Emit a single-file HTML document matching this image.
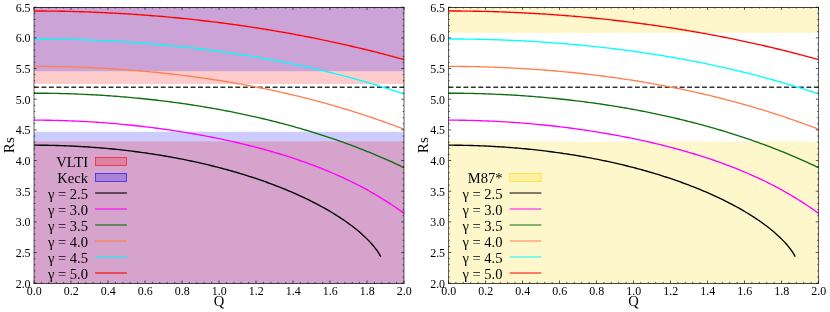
<!DOCTYPE html>
<html><head><meta charset="utf-8"><title>Rs vs Q</title>
<style>
html,body{margin:0;padding:0;background:#fff;}
svg{display:block;will-change:transform;font-family:"Liberation Serif",serif;}
</style></head>
<body>
<svg width="830" height="312" viewBox="0 0 830 312">
<rect width="830" height="312" fill="#fff"/>
<!-- left panel: Sgr A* (VLTI / Keck) -->
<rect x="34.00" y="7.20" width="370.00" height="76.79" fill="#ff0000" fill-opacity="0.2"/>
<rect x="34.00" y="7.20" width="370.00" height="64.03" fill="#0000ff" fill-opacity="0.2"/>
<rect x="34.00" y="131.77" width="370.00" height="151.43" fill="#0000ff" fill-opacity="0.2"/>
<rect x="34.00" y="141.34" width="370.00" height="141.86" fill="#ff0000" fill-opacity="0.2"/>
<path d="M34.00,87.18 H404.00" stroke="#000" stroke-opacity="0.8" stroke-width="1.4" stroke-dasharray="4.9 2.557" fill="none"/>
<g fill="none" stroke-width="1.35" stroke-linejoin="round">
<path d="M34.00,145.19 L36.18,145.19 L38.36,145.20 L40.54,145.21 L42.72,145.23 L44.90,145.26 L47.08,145.29 L49.27,145.33 L51.45,145.37 L53.63,145.42 L55.81,145.48 L57.99,145.54 L60.17,145.61 L62.35,145.68 L64.53,145.76 L66.71,145.84 L68.89,145.93 L71.07,146.03 L73.25,146.13 L75.44,146.24 L77.62,146.35 L79.80,146.47 L81.98,146.60 L84.16,146.73 L86.34,146.87 L88.52,147.01 L90.70,147.16 L92.88,147.32 L95.06,147.48 L97.24,147.65 L99.42,147.83 L101.61,148.01 L103.79,148.19 L105.97,148.38 L108.15,148.58 L110.33,148.79 L112.51,149.00 L114.69,149.22 L116.87,149.44 L119.05,149.67 L121.23,149.91 L123.41,150.15 L125.59,150.40 L127.78,150.65 L129.96,150.92 L132.14,151.18 L134.32,151.46 L136.50,151.74 L138.68,152.03 L140.86,152.32 L143.04,152.62 L145.22,152.93 L147.40,153.24 L149.58,153.57 L151.76,153.89 L153.94,154.23 L156.13,154.57 L158.31,154.92 L160.49,155.27 L162.67,155.63 L164.85,156.00 L167.03,156.38 L169.21,156.76 L171.39,157.15 L173.57,157.55 L175.75,157.96 L177.93,158.37 L180.11,158.79 L182.30,159.21 L184.48,159.65 L186.66,160.09 L188.84,160.54 L191.02,161.00 L193.20,161.46 L195.38,161.94 L197.56,162.42 L199.74,162.90 L201.92,163.40 L204.10,163.91 L206.28,164.42 L208.47,164.94 L210.65,165.47 L212.83,166.01 L215.01,166.55 L217.19,167.11 L219.37,167.67 L221.55,168.24 L223.73,168.83 L225.91,169.42 L228.09,170.02 L230.27,170.62 L232.45,171.24 L234.64,171.87 L236.82,172.51 L239.00,173.15 L241.18,173.81 L243.36,174.47 L245.54,175.15 L247.72,175.84 L249.90,176.53 L252.08,177.24 L254.26,177.96 L256.44,178.69 L258.62,179.42 L260.81,180.18 L262.99,180.94 L265.17,181.71 L267.35,182.50 L269.53,183.29 L271.71,184.10 L273.89,184.92 L276.07,185.76 L278.25,186.60 L280.43,187.46 L282.61,188.34 L284.79,189.22 L286.97,190.12 L289.16,191.04 L291.34,191.97 L293.52,192.91 L295.70,193.87 L297.88,194.85 L300.06,195.84 L302.24,196.85 L304.42,197.88 L306.60,198.92 L308.78,199.98 L310.96,201.06 L313.14,202.16 L315.33,203.28 L317.51,204.42 L319.69,205.58 L321.87,206.76 L324.05,207.96 L326.23,209.19 L328.41,210.45 L330.59,211.73 L332.77,213.04 L334.95,214.37 L337.13,215.74 L339.31,217.14 L341.50,218.57 L343.68,220.04 L345.86,221.55 L348.04,223.09 L350.22,224.68 L352.40,226.32 L354.58,228.02 L356.76,229.76 L358.94,231.57 L361.12,233.45 L363.30,235.41 L365.48,237.46 L367.67,239.61 L369.85,241.88 L372.03,244.30 L374.21,246.90 L376.39,249.74 L378.57,252.90 L380.75,256.54" stroke="#000000"/>
<path d="M34.00,120.14 L36.33,120.15 L38.65,120.16 L40.98,120.17 L43.31,120.19 L45.64,120.22 L47.96,120.25 L50.29,120.29 L52.62,120.33 L54.94,120.38 L57.27,120.43 L59.60,120.49 L61.92,120.56 L64.25,120.63 L66.58,120.71 L68.91,120.80 L71.23,120.89 L73.56,120.98 L75.89,121.08 L78.21,121.19 L80.54,121.30 L82.87,121.42 L85.19,121.55 L87.52,121.68 L89.85,121.81 L92.18,121.95 L94.50,122.10 L96.83,122.25 L99.16,122.41 L101.48,122.58 L103.81,122.75 L106.14,122.93 L108.47,123.11 L110.79,123.30 L113.12,123.49 L115.45,123.69 L117.77,123.90 L120.10,124.11 L122.43,124.32 L124.75,124.55 L127.08,124.78 L129.41,125.01 L131.74,125.25 L134.06,125.50 L136.39,125.75 L138.72,126.01 L141.04,126.27 L143.37,126.54 L145.70,126.82 L148.03,127.10 L150.35,127.39 L152.68,127.68 L155.01,127.98 L157.33,128.29 L159.66,128.60 L161.99,128.92 L164.31,129.24 L166.64,129.57 L168.97,129.91 L171.30,130.25 L173.62,130.60 L175.95,130.95 L178.28,131.31 L180.60,131.68 L182.93,132.05 L185.26,132.43 L187.58,132.82 L189.91,133.21 L192.24,133.61 L194.57,134.01 L196.89,134.42 L199.22,134.84 L201.55,135.27 L203.87,135.70 L206.20,136.14 L208.53,136.58 L210.86,137.03 L213.18,137.49 L215.51,137.96 L217.84,138.43 L220.16,138.91 L222.49,139.40 L224.82,139.89 L227.14,140.40 L229.47,140.91 L231.80,141.42 L234.13,141.95 L236.45,142.48 L238.78,143.02 L241.11,143.57 L243.43,144.13 L245.76,144.69 L248.09,145.26 L250.42,145.84 L252.74,146.43 L255.07,147.03 L257.40,147.64 L259.72,148.26 L262.05,148.88 L264.38,149.52 L266.70,150.16 L269.03,150.81 L271.36,151.48 L273.69,152.15 L276.01,152.83 L278.34,153.52 L280.67,154.23 L282.99,154.94 L285.32,155.66 L287.65,156.40 L289.97,157.15 L292.30,157.90 L294.63,158.67 L296.96,159.45 L299.28,160.25 L301.61,161.05 L303.94,161.87 L306.26,162.70 L308.59,163.54 L310.92,164.40 L313.25,165.27 L315.57,166.15 L317.90,167.05 L320.23,167.96 L322.55,168.89 L324.88,169.83 L327.21,170.79 L329.53,171.76 L331.86,172.75 L334.19,173.75 L336.52,174.77 L338.84,175.81 L341.17,176.86 L343.50,177.93 L345.82,179.02 L348.15,180.13 L350.48,181.26 L352.81,182.41 L355.13,183.57 L357.46,184.76 L359.79,185.96 L362.11,187.19 L364.44,188.43 L366.77,189.70 L369.09,190.99 L371.42,192.31 L373.75,193.64 L376.08,195.00 L378.40,196.39 L380.73,197.80 L383.06,199.23 L385.38,200.69 L387.71,202.18 L390.04,203.69 L392.36,205.23 L394.69,206.79 L397.02,208.39 L399.35,210.02 L401.67,211.67 L404.00,213.35" stroke="#ff00ff"/>
<path d="M34.00,93.20 L36.33,93.20 L38.65,93.21 L40.98,93.22 L43.31,93.24 L45.64,93.26 L47.96,93.29 L50.29,93.32 L52.62,93.36 L54.94,93.40 L57.27,93.45 L59.60,93.50 L61.92,93.56 L64.25,93.62 L66.58,93.69 L68.91,93.76 L71.23,93.84 L73.56,93.92 L75.89,94.01 L78.21,94.10 L80.54,94.19 L82.87,94.30 L85.19,94.40 L87.52,94.52 L89.85,94.63 L92.18,94.75 L94.50,94.88 L96.83,95.01 L99.16,95.15 L101.48,95.29 L103.81,95.44 L106.14,95.59 L108.47,95.75 L110.79,95.91 L113.12,96.08 L115.45,96.26 L117.77,96.43 L120.10,96.62 L122.43,96.81 L124.75,97.00 L127.08,97.20 L129.41,97.40 L131.74,97.61 L134.06,97.83 L136.39,98.05 L138.72,98.28 L141.04,98.51 L143.37,98.74 L145.70,98.98 L148.03,99.23 L150.35,99.48 L152.68,99.74 L155.01,100.01 L157.33,100.27 L159.66,100.55 L161.99,100.83 L164.31,101.11 L166.64,101.40 L168.97,101.70 L171.30,102.00 L173.62,102.31 L175.95,102.62 L178.28,102.94 L180.60,103.27 L182.93,103.60 L185.26,103.93 L187.58,104.28 L189.91,104.62 L192.24,104.98 L194.57,105.34 L196.89,105.70 L199.22,106.07 L201.55,106.45 L203.87,106.83 L206.20,107.22 L208.53,107.62 L210.86,108.02 L213.18,108.43 L215.51,108.84 L217.84,109.26 L220.16,109.69 L222.49,110.12 L224.82,110.56 L227.14,111.00 L229.47,111.45 L231.80,111.91 L234.13,112.38 L236.45,112.85 L238.78,113.33 L241.11,113.81 L243.43,114.30 L245.76,114.80 L248.09,115.30 L250.42,115.81 L252.74,116.33 L255.07,116.85 L257.40,117.39 L259.72,117.92 L262.05,118.47 L264.38,119.02 L266.70,119.58 L269.03,120.15 L271.36,120.72 L273.69,121.30 L276.01,121.89 L278.34,122.49 L280.67,123.09 L282.99,123.70 L285.32,124.32 L287.65,124.95 L289.97,125.58 L292.30,126.22 L294.63,126.87 L296.96,127.53 L299.28,128.19 L301.61,128.87 L303.94,129.55 L306.26,130.24 L308.59,130.94 L310.92,131.64 L313.25,132.36 L315.57,133.08 L317.90,133.81 L320.23,134.55 L322.55,135.30 L324.88,136.06 L327.21,136.82 L329.53,137.60 L331.86,138.38 L334.19,139.17 L336.52,139.98 L338.84,140.79 L341.17,141.61 L343.50,142.44 L345.82,143.28 L348.15,144.13 L350.48,144.99 L352.81,145.86 L355.13,146.73 L357.46,147.62 L359.79,148.52 L362.11,149.43 L364.44,150.35 L366.77,151.28 L369.09,152.22 L371.42,153.17 L373.75,154.13 L376.08,155.10 L378.40,156.08 L380.73,157.07 L383.06,158.08 L385.38,159.09 L387.71,160.12 L390.04,161.16 L392.36,162.21 L394.69,163.27 L397.02,164.34 L399.35,165.43 L401.67,166.53 L404.00,167.64" stroke="#0c6e0c"/>
<path d="M34.00,66.39 L36.33,66.39 L38.65,66.40 L40.98,66.41 L43.31,66.42 L45.64,66.44 L47.96,66.47 L50.29,66.49 L52.62,66.53 L54.94,66.56 L57.27,66.60 L59.60,66.65 L61.92,66.70 L64.25,66.75 L66.58,66.81 L68.91,66.87 L71.23,66.94 L73.56,67.01 L75.89,67.09 L78.21,67.16 L80.54,67.25 L82.87,67.34 L85.19,67.43 L87.52,67.53 L89.85,67.63 L92.18,67.73 L94.50,67.84 L96.83,67.96 L99.16,68.08 L101.48,68.20 L103.81,68.33 L106.14,68.46 L108.47,68.60 L110.79,68.74 L113.12,68.88 L115.45,69.03 L117.77,69.19 L120.10,69.35 L122.43,69.51 L124.75,69.68 L127.08,69.85 L129.41,70.03 L131.74,70.21 L134.06,70.40 L136.39,70.59 L138.72,70.78 L141.04,70.98 L143.37,71.19 L145.70,71.40 L148.03,71.61 L150.35,71.83 L152.68,72.05 L155.01,72.28 L157.33,72.51 L159.66,72.75 L161.99,72.99 L164.31,73.24 L166.64,73.49 L168.97,73.75 L171.30,74.01 L173.62,74.28 L175.95,74.55 L178.28,74.82 L180.60,75.11 L182.93,75.39 L185.26,75.68 L187.58,75.98 L189.91,76.28 L192.24,76.58 L194.57,76.90 L196.89,77.21 L199.22,77.53 L201.55,77.86 L203.87,78.19 L206.20,78.53 L208.53,78.87 L210.86,79.22 L213.18,79.57 L215.51,79.93 L217.84,80.29 L220.16,80.66 L222.49,81.03 L224.82,81.41 L227.14,81.79 L229.47,82.18 L231.80,82.58 L234.13,82.98 L236.45,83.38 L238.78,83.79 L241.11,84.21 L243.43,84.63 L245.76,85.06 L248.09,85.50 L250.42,85.93 L252.74,86.38 L255.07,86.83 L257.40,87.29 L259.72,87.75 L262.05,88.22 L264.38,88.69 L266.70,89.17 L269.03,89.66 L271.36,90.15 L273.69,90.65 L276.01,91.15 L278.34,91.66 L280.67,92.18 L282.99,92.70 L285.32,93.23 L287.65,93.76 L289.97,94.30 L292.30,94.85 L294.63,95.40 L296.96,95.96 L299.28,96.53 L301.61,97.10 L303.94,97.68 L306.26,98.27 L308.59,98.86 L310.92,99.46 L313.25,100.06 L315.57,100.67 L317.90,101.29 L320.23,101.92 L322.55,102.55 L324.88,103.19 L327.21,103.83 L329.53,104.49 L331.86,105.15 L334.19,105.81 L336.52,106.49 L338.84,107.17 L341.17,107.85 L343.50,108.55 L345.82,109.25 L348.15,109.96 L350.48,110.67 L352.81,111.40 L355.13,112.13 L357.46,112.87 L359.79,113.61 L362.11,114.37 L364.44,115.13 L366.77,115.90 L369.09,116.67 L371.42,117.46 L373.75,118.25 L376.08,119.05 L378.40,119.85 L380.73,120.67 L383.06,121.49 L385.38,122.32 L387.71,123.16 L390.04,124.01 L392.36,124.86 L394.69,125.73 L397.02,126.60 L399.35,127.48 L401.67,128.37 L404.00,129.26" stroke="#ff7f50"/>
<path d="M34.00,38.96 L36.33,38.96 L38.65,38.97 L40.98,38.98 L43.31,38.99 L45.64,39.01 L47.96,39.03 L50.29,39.05 L52.62,39.08 L54.94,39.11 L57.27,39.15 L59.60,39.19 L61.92,39.23 L64.25,39.28 L66.58,39.33 L68.91,39.39 L71.23,39.44 L73.56,39.51 L75.89,39.57 L78.21,39.64 L80.54,39.72 L82.87,39.79 L85.19,39.87 L87.52,39.96 L89.85,40.05 L92.18,40.14 L94.50,40.24 L96.83,40.34 L99.16,40.44 L101.48,40.55 L103.81,40.66 L106.14,40.78 L108.47,40.90 L110.79,41.02 L113.12,41.15 L115.45,41.28 L117.77,41.42 L120.10,41.56 L122.43,41.70 L124.75,41.85 L127.08,42.00 L129.41,42.16 L131.74,42.31 L134.06,42.48 L136.39,42.65 L138.72,42.82 L141.04,42.99 L143.37,43.17 L145.70,43.36 L148.03,43.54 L150.35,43.73 L152.68,43.93 L155.01,44.13 L157.33,44.33 L159.66,44.54 L161.99,44.76 L164.31,44.97 L166.64,45.19 L168.97,45.42 L171.30,45.65 L173.62,45.88 L175.95,46.12 L178.28,46.36 L180.60,46.61 L182.93,46.86 L185.26,47.11 L187.58,47.37 L189.91,47.64 L192.24,47.90 L194.57,48.18 L196.89,48.45 L199.22,48.73 L201.55,49.02 L203.87,49.31 L206.20,49.60 L208.53,49.90 L210.86,50.21 L213.18,50.52 L215.51,50.83 L217.84,51.15 L220.16,51.47 L222.49,51.79 L224.82,52.13 L227.14,52.46 L229.47,52.80 L231.80,53.15 L234.13,53.50 L236.45,53.85 L238.78,54.21 L241.11,54.58 L243.43,54.95 L245.76,55.32 L248.09,55.70 L250.42,56.09 L252.74,56.48 L255.07,56.87 L257.40,57.27 L259.72,57.67 L262.05,58.08 L264.38,58.50 L266.70,58.92 L269.03,59.34 L271.36,59.77 L273.69,60.21 L276.01,60.65 L278.34,61.09 L280.67,61.54 L282.99,62.00 L285.32,62.46 L287.65,62.93 L289.97,63.40 L292.30,63.88 L294.63,64.36 L296.96,64.85 L299.28,65.35 L301.61,65.84 L303.94,66.35 L306.26,66.86 L308.59,67.38 L310.92,67.90 L313.25,68.43 L315.57,68.96 L317.90,69.50 L320.23,70.05 L322.55,70.60 L324.88,71.16 L327.21,71.72 L329.53,72.29 L331.86,72.86 L334.19,73.44 L336.52,74.03 L338.84,74.62 L341.17,75.22 L343.50,75.83 L345.82,76.44 L348.15,77.06 L350.48,77.68 L352.81,78.31 L355.13,78.95 L357.46,79.59 L359.79,80.24 L362.11,80.90 L364.44,81.56 L366.77,82.23 L369.09,82.91 L371.42,83.59 L373.75,84.28 L376.08,84.98 L378.40,85.68 L380.73,86.39 L383.06,87.10 L385.38,87.83 L387.71,88.56 L390.04,89.29 L392.36,90.04 L394.69,90.79 L397.02,91.55 L399.35,92.31 L401.67,93.08 L404.00,93.86" stroke="#00ffff"/>
<path d="M34.00,10.99 L36.33,10.99 L38.65,10.99 L40.98,11.00 L43.31,11.02 L45.64,11.03 L47.96,11.05 L50.29,11.08 L52.62,11.10 L54.94,11.13 L57.27,11.17 L59.60,11.21 L61.92,11.25 L64.25,11.29 L66.58,11.34 L68.91,11.39 L71.23,11.45 L73.56,11.51 L75.89,11.57 L78.21,11.64 L80.54,11.71 L82.87,11.78 L85.19,11.86 L87.52,11.94 L89.85,12.03 L92.18,12.12 L94.50,12.21 L96.83,12.31 L99.16,12.41 L101.48,12.51 L103.81,12.62 L106.14,12.73 L108.47,12.84 L110.79,12.96 L113.12,13.08 L115.45,13.21 L117.77,13.34 L120.10,13.47 L122.43,13.60 L124.75,13.75 L127.08,13.89 L129.41,14.04 L131.74,14.19 L134.06,14.34 L136.39,14.50 L138.72,14.66 L141.04,14.83 L143.37,15.00 L145.70,15.17 L148.03,15.35 L150.35,15.53 L152.68,15.72 L155.01,15.91 L157.33,16.10 L159.66,16.29 L161.99,16.49 L164.31,16.70 L166.64,16.90 L168.97,17.12 L171.30,17.33 L173.62,17.55 L175.95,17.77 L178.28,18.00 L180.60,18.23 L182.93,18.46 L185.26,18.70 L187.58,18.94 L189.91,19.19 L192.24,19.44 L194.57,19.69 L196.89,19.95 L199.22,20.21 L201.55,20.47 L203.87,20.74 L206.20,21.02 L208.53,21.29 L210.86,21.57 L213.18,21.86 L215.51,22.15 L217.84,22.44 L220.16,22.74 L222.49,23.04 L224.82,23.34 L227.14,23.65 L229.47,23.96 L231.80,24.28 L234.13,24.60 L236.45,24.92 L238.78,25.25 L241.11,25.58 L243.43,25.92 L245.76,26.26 L248.09,26.61 L250.42,26.95 L252.74,27.31 L255.07,27.66 L257.40,28.03 L259.72,28.39 L262.05,28.76 L264.38,29.13 L266.70,29.51 L269.03,29.89 L271.36,30.28 L273.69,30.67 L276.01,31.06 L278.34,31.46 L280.67,31.86 L282.99,32.27 L285.32,32.68 L287.65,33.10 L289.97,33.52 L292.30,33.94 L294.63,34.37 L296.96,34.80 L299.28,35.24 L301.61,35.68 L303.94,36.13 L306.26,36.58 L308.59,37.03 L310.92,37.49 L313.25,37.95 L315.57,38.42 L317.90,38.89 L320.23,39.37 L322.55,39.85 L324.88,40.33 L327.21,40.82 L329.53,41.32 L331.86,41.82 L334.19,42.32 L336.52,42.83 L338.84,43.34 L341.17,43.86 L343.50,44.38 L345.82,44.90 L348.15,45.43 L350.48,45.97 L352.81,46.51 L355.13,47.05 L357.46,47.60 L359.79,48.16 L362.11,48.72 L364.44,49.28 L366.77,49.85 L369.09,50.42 L371.42,51.00 L373.75,51.58 L376.08,52.17 L378.40,52.76 L380.73,53.35 L383.06,53.96 L385.38,54.56 L387.71,55.17 L390.04,55.79 L392.36,56.41 L394.69,57.04 L397.02,57.67 L399.35,58.30 L401.67,58.94 L404.00,59.59" stroke="#ff0000"/>
</g>
<path d="M34.00,283.2 v-2.7 M34.00,7.2 v2.7 M41.40,283.2 v-1.3 M41.40,7.2 v1.3 M48.80,283.2 v-1.3 M48.80,7.2 v1.3 M56.20,283.2 v-1.3 M56.20,7.2 v1.3 M63.60,283.2 v-1.3 M63.60,7.2 v1.3 M71.00,283.2 v-2.7 M71.00,7.2 v2.7 M78.40,283.2 v-1.3 M78.40,7.2 v1.3 M85.80,283.2 v-1.3 M85.80,7.2 v1.3 M93.20,283.2 v-1.3 M93.20,7.2 v1.3 M100.60,283.2 v-1.3 M100.60,7.2 v1.3 M108.00,283.2 v-2.7 M108.00,7.2 v2.7 M115.40,283.2 v-1.3 M115.40,7.2 v1.3 M122.80,283.2 v-1.3 M122.80,7.2 v1.3 M130.20,283.2 v-1.3 M130.20,7.2 v1.3 M137.60,283.2 v-1.3 M137.60,7.2 v1.3 M145.00,283.2 v-2.7 M145.00,7.2 v2.7 M152.40,283.2 v-1.3 M152.40,7.2 v1.3 M159.80,283.2 v-1.3 M159.80,7.2 v1.3 M167.20,283.2 v-1.3 M167.20,7.2 v1.3 M174.60,283.2 v-1.3 M174.60,7.2 v1.3 M182.00,283.2 v-2.7 M182.00,7.2 v2.7 M189.40,283.2 v-1.3 M189.40,7.2 v1.3 M196.80,283.2 v-1.3 M196.80,7.2 v1.3 M204.20,283.2 v-1.3 M204.20,7.2 v1.3 M211.60,283.2 v-1.3 M211.60,7.2 v1.3 M219.00,283.2 v-2.7 M219.00,7.2 v2.7 M226.40,283.2 v-1.3 M226.40,7.2 v1.3 M233.80,283.2 v-1.3 M233.80,7.2 v1.3 M241.20,283.2 v-1.3 M241.20,7.2 v1.3 M248.60,283.2 v-1.3 M248.60,7.2 v1.3 M256.00,283.2 v-2.7 M256.00,7.2 v2.7 M263.40,283.2 v-1.3 M263.40,7.2 v1.3 M270.80,283.2 v-1.3 M270.80,7.2 v1.3 M278.20,283.2 v-1.3 M278.20,7.2 v1.3 M285.60,283.2 v-1.3 M285.60,7.2 v1.3 M293.00,283.2 v-2.7 M293.00,7.2 v2.7 M300.40,283.2 v-1.3 M300.40,7.2 v1.3 M307.80,283.2 v-1.3 M307.80,7.2 v1.3 M315.20,283.2 v-1.3 M315.20,7.2 v1.3 M322.60,283.2 v-1.3 M322.60,7.2 v1.3 M330.00,283.2 v-2.7 M330.00,7.2 v2.7 M337.40,283.2 v-1.3 M337.40,7.2 v1.3 M344.80,283.2 v-1.3 M344.80,7.2 v1.3 M352.20,283.2 v-1.3 M352.20,7.2 v1.3 M359.60,283.2 v-1.3 M359.60,7.2 v1.3 M367.00,283.2 v-2.7 M367.00,7.2 v2.7 M374.40,283.2 v-1.3 M374.40,7.2 v1.3 M381.80,283.2 v-1.3 M381.80,7.2 v1.3 M389.20,283.2 v-1.3 M389.20,7.2 v1.3 M396.60,283.2 v-1.3 M396.60,7.2 v1.3 M404.00,283.2 v-2.7 M404.00,7.2 v2.7 M34.00,283.20 h2.7 M404.00,283.20 h-2.7 M34.00,277.07 h1.3 M404.00,277.07 h-1.3 M34.00,270.93 h1.3 M404.00,270.93 h-1.3 M34.00,264.80 h1.3 M404.00,264.80 h-1.3 M34.00,258.67 h1.3 M404.00,258.67 h-1.3 M34.00,252.53 h2.7 M404.00,252.53 h-2.7 M34.00,246.40 h1.3 M404.00,246.40 h-1.3 M34.00,240.27 h1.3 M404.00,240.27 h-1.3 M34.00,234.13 h1.3 M404.00,234.13 h-1.3 M34.00,228.00 h1.3 M404.00,228.00 h-1.3 M34.00,221.87 h2.7 M404.00,221.87 h-2.7 M34.00,215.73 h1.3 M404.00,215.73 h-1.3 M34.00,209.60 h1.3 M404.00,209.60 h-1.3 M34.00,203.47 h1.3 M404.00,203.47 h-1.3 M34.00,197.33 h1.3 M404.00,197.33 h-1.3 M34.00,191.20 h2.7 M404.00,191.20 h-2.7 M34.00,185.07 h1.3 M404.00,185.07 h-1.3 M34.00,178.93 h1.3 M404.00,178.93 h-1.3 M34.00,172.80 h1.3 M404.00,172.80 h-1.3 M34.00,166.67 h1.3 M404.00,166.67 h-1.3 M34.00,160.53 h2.7 M404.00,160.53 h-2.7 M34.00,154.40 h1.3 M404.00,154.40 h-1.3 M34.00,148.27 h1.3 M404.00,148.27 h-1.3 M34.00,142.13 h1.3 M404.00,142.13 h-1.3 M34.00,136.00 h1.3 M404.00,136.00 h-1.3 M34.00,129.87 h2.7 M404.00,129.87 h-2.7 M34.00,123.73 h1.3 M404.00,123.73 h-1.3 M34.00,117.60 h1.3 M404.00,117.60 h-1.3 M34.00,111.47 h1.3 M404.00,111.47 h-1.3 M34.00,105.33 h1.3 M404.00,105.33 h-1.3 M34.00,99.20 h2.7 M404.00,99.20 h-2.7 M34.00,93.07 h1.3 M404.00,93.07 h-1.3 M34.00,86.93 h1.3 M404.00,86.93 h-1.3 M34.00,80.80 h1.3 M404.00,80.80 h-1.3 M34.00,74.67 h1.3 M404.00,74.67 h-1.3 M34.00,68.53 h2.7 M404.00,68.53 h-2.7 M34.00,62.40 h1.3 M404.00,62.40 h-1.3 M34.00,56.27 h1.3 M404.00,56.27 h-1.3 M34.00,50.13 h1.3 M404.00,50.13 h-1.3 M34.00,44.00 h1.3 M404.00,44.00 h-1.3 M34.00,37.87 h2.7 M404.00,37.87 h-2.7 M34.00,31.73 h1.3 M404.00,31.73 h-1.3 M34.00,25.60 h1.3 M404.00,25.60 h-1.3 M34.00,19.47 h1.3 M404.00,19.47 h-1.3 M34.00,13.33 h1.3 M404.00,13.33 h-1.3 M34.00,7.20 h2.7 M404.00,7.20 h-2.7 " stroke="#000" stroke-width="0.65" fill="none"/>
<path d="M33.55,7.50 H404.45 M33.55,283.50 H404.45" stroke="#000" stroke-opacity="0.82" stroke-width="0.9" fill="none"/>
<path d="M34.00,7.50 V283.50 M404.00,7.50 V283.50" stroke="#000" stroke-opacity="0.62" stroke-width="1" fill="none"/>
<text transform="translate(34.20,295.20) scale(1.04,1)" text-anchor="middle" font-size="11.5">0.0</text>
<text transform="translate(71.20,295.20) scale(1.04,1)" text-anchor="middle" font-size="11.5">0.2</text>
<text transform="translate(108.20,295.20) scale(1.04,1)" text-anchor="middle" font-size="11.5">0.4</text>
<text transform="translate(145.20,295.20) scale(1.04,1)" text-anchor="middle" font-size="11.5">0.6</text>
<text transform="translate(182.20,295.20) scale(1.04,1)" text-anchor="middle" font-size="11.5">0.8</text>
<text transform="translate(219.20,295.20) scale(1.04,1)" text-anchor="middle" font-size="11.5">1.0</text>
<text transform="translate(256.20,295.20) scale(1.04,1)" text-anchor="middle" font-size="11.5">1.2</text>
<text transform="translate(293.20,295.20) scale(1.04,1)" text-anchor="middle" font-size="11.5">1.4</text>
<text transform="translate(330.20,295.20) scale(1.04,1)" text-anchor="middle" font-size="11.5">1.6</text>
<text transform="translate(367.20,295.20) scale(1.04,1)" text-anchor="middle" font-size="11.5">1.8</text>
<text transform="translate(404.20,295.20) scale(1.04,1)" text-anchor="middle" font-size="11.5">2.0</text>
<text transform="translate(30.60,287.60) scale(1.04,1)" text-anchor="end" font-size="11.5">2.0</text>
<text transform="translate(30.60,256.93) scale(1.04,1)" text-anchor="end" font-size="11.5">2.5</text>
<text transform="translate(30.60,226.27) scale(1.04,1)" text-anchor="end" font-size="11.5">3.0</text>
<text transform="translate(30.60,195.60) scale(1.04,1)" text-anchor="end" font-size="11.5">3.5</text>
<text transform="translate(30.60,164.93) scale(1.04,1)" text-anchor="end" font-size="11.5">4.0</text>
<text transform="translate(30.60,134.27) scale(1.04,1)" text-anchor="end" font-size="11.5">4.5</text>
<text transform="translate(30.60,103.60) scale(1.04,1)" text-anchor="end" font-size="11.5">5.0</text>
<text transform="translate(30.60,72.93) scale(1.04,1)" text-anchor="end" font-size="11.5">5.5</text>
<text transform="translate(30.60,42.27) scale(1.04,1)" text-anchor="end" font-size="11.5">6.0</text>
<text transform="translate(30.60,11.60) scale(1.04,1)" text-anchor="end" font-size="11.5">6.5</text>
<text transform="translate(219.10,305.80) scale(1.04,1)" text-anchor="middle" font-size="14">Q</text>
<text transform="translate(13.80,145.20) rotate(-90) scale(1.08,1)" text-anchor="middle" font-size="14">Rs</text>
<text transform="translate(88.00,166.50) scale(1.04,1)" text-anchor="end" font-size="14">VLTI</text>
<rect x="95.40" y="157.40" width="31.10" height="8.0" fill="#ff0000" fill-opacity="0.2" stroke="#ff0000" stroke-opacity="0.75" stroke-width="0.8"/>
<text transform="translate(88.00,182.50) scale(1.04,1)" text-anchor="end" font-size="14">Keck</text>
<rect x="95.40" y="173.40" width="31.10" height="8.0" fill="#0000ff" fill-opacity="0.2" stroke="#0000ff" stroke-opacity="0.75" stroke-width="0.8"/>
<text transform="translate(88.00,198.50) scale(1.04,1)" text-anchor="end" font-size="14">γ = 2.5</text>
<path d="M95.10,193.00 H126.90" stroke="#000000" stroke-width="1.12" fill="none"/>
<text transform="translate(88.00,214.50) scale(1.04,1)" text-anchor="end" font-size="14">γ = 3.0</text>
<path d="M95.10,209.00 H126.90" stroke="#ff00ff" stroke-width="1.12" fill="none"/>
<text transform="translate(88.00,230.50) scale(1.04,1)" text-anchor="end" font-size="14">γ = 3.5</text>
<path d="M95.10,225.00 H126.90" stroke="#0c6e0c" stroke-width="1.12" fill="none"/>
<text transform="translate(88.00,246.50) scale(1.04,1)" text-anchor="end" font-size="14">γ = 4.0</text>
<path d="M95.10,241.00 H126.90" stroke="#ff7f50" stroke-width="1.12" fill="none"/>
<text transform="translate(88.00,262.50) scale(1.04,1)" text-anchor="end" font-size="14">γ = 4.5</text>
<path d="M95.10,257.00 H126.90" stroke="#00ffff" stroke-width="1.12" fill="none"/>
<text transform="translate(88.00,278.50) scale(1.04,1)" text-anchor="end" font-size="14">γ = 5.0</text>
<path d="M95.10,273.00 H126.90" stroke="#ff0000" stroke-width="1.12" fill="none"/>
<!-- right panel: M87* -->
<rect x="448.50" y="7.20" width="370.00" height="25.76" fill="#ffd700" fill-opacity="0.2"/>
<rect x="448.50" y="141.52" width="370.00" height="141.68" fill="#ffd700" fill-opacity="0.2"/>
<path d="M448.50,87.18 H818.50" stroke="#000" stroke-opacity="0.8" stroke-width="1.4" stroke-dasharray="4.9 2.557" fill="none"/>
<g fill="none" stroke-width="1.35" stroke-linejoin="round">
<path d="M448.50,145.19 L450.68,145.19 L452.86,145.20 L455.04,145.21 L457.22,145.23 L459.40,145.26 L461.58,145.29 L463.77,145.33 L465.95,145.37 L468.13,145.42 L470.31,145.48 L472.49,145.54 L474.67,145.61 L476.85,145.68 L479.03,145.76 L481.21,145.84 L483.39,145.93 L485.57,146.03 L487.75,146.13 L489.94,146.24 L492.12,146.35 L494.30,146.47 L496.48,146.60 L498.66,146.73 L500.84,146.87 L503.02,147.01 L505.20,147.16 L507.38,147.32 L509.56,147.48 L511.74,147.65 L513.92,147.83 L516.11,148.01 L518.29,148.19 L520.47,148.38 L522.65,148.58 L524.83,148.79 L527.01,149.00 L529.19,149.22 L531.37,149.44 L533.55,149.67 L535.73,149.91 L537.91,150.15 L540.09,150.40 L542.28,150.65 L544.46,150.92 L546.64,151.18 L548.82,151.46 L551.00,151.74 L553.18,152.03 L555.36,152.32 L557.54,152.62 L559.72,152.93 L561.90,153.24 L564.08,153.57 L566.26,153.89 L568.44,154.23 L570.63,154.57 L572.81,154.92 L574.99,155.27 L577.17,155.63 L579.35,156.00 L581.53,156.38 L583.71,156.76 L585.89,157.15 L588.07,157.55 L590.25,157.96 L592.43,158.37 L594.61,158.79 L596.80,159.21 L598.98,159.65 L601.16,160.09 L603.34,160.54 L605.52,161.00 L607.70,161.46 L609.88,161.94 L612.06,162.42 L614.24,162.90 L616.42,163.40 L618.60,163.91 L620.78,164.42 L622.97,164.94 L625.15,165.47 L627.33,166.01 L629.51,166.55 L631.69,167.11 L633.87,167.67 L636.05,168.24 L638.23,168.83 L640.41,169.42 L642.59,170.02 L644.77,170.62 L646.95,171.24 L649.14,171.87 L651.32,172.51 L653.50,173.15 L655.68,173.81 L657.86,174.47 L660.04,175.15 L662.22,175.84 L664.40,176.53 L666.58,177.24 L668.76,177.96 L670.94,178.69 L673.12,179.42 L675.31,180.18 L677.49,180.94 L679.67,181.71 L681.85,182.50 L684.03,183.29 L686.21,184.10 L688.39,184.92 L690.57,185.76 L692.75,186.60 L694.93,187.46 L697.11,188.34 L699.29,189.22 L701.47,190.12 L703.66,191.04 L705.84,191.97 L708.02,192.91 L710.20,193.87 L712.38,194.85 L714.56,195.84 L716.74,196.85 L718.92,197.88 L721.10,198.92 L723.28,199.98 L725.46,201.06 L727.64,202.16 L729.83,203.28 L732.01,204.42 L734.19,205.58 L736.37,206.76 L738.55,207.96 L740.73,209.19 L742.91,210.45 L745.09,211.73 L747.27,213.04 L749.45,214.37 L751.63,215.74 L753.81,217.14 L756.00,218.57 L758.18,220.04 L760.36,221.55 L762.54,223.09 L764.72,224.68 L766.90,226.32 L769.08,228.02 L771.26,229.76 L773.44,231.57 L775.62,233.45 L777.80,235.41 L779.98,237.46 L782.17,239.61 L784.35,241.88 L786.53,244.30 L788.71,246.90 L790.89,249.74 L793.07,252.90 L795.25,256.54" stroke="#000000"/>
<path d="M448.50,120.14 L450.83,120.15 L453.15,120.16 L455.48,120.17 L457.81,120.19 L460.14,120.22 L462.46,120.25 L464.79,120.29 L467.12,120.33 L469.44,120.38 L471.77,120.43 L474.10,120.49 L476.42,120.56 L478.75,120.63 L481.08,120.71 L483.41,120.80 L485.73,120.89 L488.06,120.98 L490.39,121.08 L492.71,121.19 L495.04,121.30 L497.37,121.42 L499.69,121.55 L502.02,121.68 L504.35,121.81 L506.68,121.95 L509.00,122.10 L511.33,122.25 L513.66,122.41 L515.98,122.58 L518.31,122.75 L520.64,122.93 L522.97,123.11 L525.29,123.30 L527.62,123.49 L529.95,123.69 L532.27,123.90 L534.60,124.11 L536.93,124.32 L539.25,124.55 L541.58,124.78 L543.91,125.01 L546.24,125.25 L548.56,125.50 L550.89,125.75 L553.22,126.01 L555.54,126.27 L557.87,126.54 L560.20,126.82 L562.53,127.10 L564.85,127.39 L567.18,127.68 L569.51,127.98 L571.83,128.29 L574.16,128.60 L576.49,128.92 L578.81,129.24 L581.14,129.57 L583.47,129.91 L585.80,130.25 L588.12,130.60 L590.45,130.95 L592.78,131.31 L595.10,131.68 L597.43,132.05 L599.76,132.43 L602.08,132.82 L604.41,133.21 L606.74,133.61 L609.07,134.01 L611.39,134.42 L613.72,134.84 L616.05,135.27 L618.37,135.70 L620.70,136.14 L623.03,136.58 L625.36,137.03 L627.68,137.49 L630.01,137.96 L632.34,138.43 L634.66,138.91 L636.99,139.40 L639.32,139.89 L641.64,140.40 L643.97,140.91 L646.30,141.42 L648.63,141.95 L650.95,142.48 L653.28,143.02 L655.61,143.57 L657.93,144.13 L660.26,144.69 L662.59,145.26 L664.92,145.84 L667.24,146.43 L669.57,147.03 L671.90,147.64 L674.22,148.26 L676.55,148.88 L678.88,149.52 L681.20,150.16 L683.53,150.81 L685.86,151.48 L688.19,152.15 L690.51,152.83 L692.84,153.52 L695.17,154.23 L697.49,154.94 L699.82,155.66 L702.15,156.40 L704.47,157.15 L706.80,157.90 L709.13,158.67 L711.46,159.45 L713.78,160.25 L716.11,161.05 L718.44,161.87 L720.76,162.70 L723.09,163.54 L725.42,164.40 L727.75,165.27 L730.07,166.15 L732.40,167.05 L734.73,167.96 L737.05,168.89 L739.38,169.83 L741.71,170.79 L744.03,171.76 L746.36,172.75 L748.69,173.75 L751.02,174.77 L753.34,175.81 L755.67,176.86 L758.00,177.93 L760.32,179.02 L762.65,180.13 L764.98,181.26 L767.31,182.41 L769.63,183.57 L771.96,184.76 L774.29,185.96 L776.61,187.19 L778.94,188.43 L781.27,189.70 L783.59,190.99 L785.92,192.31 L788.25,193.64 L790.58,195.00 L792.90,196.39 L795.23,197.80 L797.56,199.23 L799.88,200.69 L802.21,202.18 L804.54,203.69 L806.86,205.23 L809.19,206.79 L811.52,208.39 L813.85,210.02 L816.17,211.67 L818.50,213.35" stroke="#ff00ff"/>
<path d="M448.50,93.20 L450.83,93.20 L453.15,93.21 L455.48,93.22 L457.81,93.24 L460.14,93.26 L462.46,93.29 L464.79,93.32 L467.12,93.36 L469.44,93.40 L471.77,93.45 L474.10,93.50 L476.42,93.56 L478.75,93.62 L481.08,93.69 L483.41,93.76 L485.73,93.84 L488.06,93.92 L490.39,94.01 L492.71,94.10 L495.04,94.19 L497.37,94.30 L499.69,94.40 L502.02,94.52 L504.35,94.63 L506.68,94.75 L509.00,94.88 L511.33,95.01 L513.66,95.15 L515.98,95.29 L518.31,95.44 L520.64,95.59 L522.97,95.75 L525.29,95.91 L527.62,96.08 L529.95,96.26 L532.27,96.43 L534.60,96.62 L536.93,96.81 L539.25,97.00 L541.58,97.20 L543.91,97.40 L546.24,97.61 L548.56,97.83 L550.89,98.05 L553.22,98.28 L555.54,98.51 L557.87,98.74 L560.20,98.98 L562.53,99.23 L564.85,99.48 L567.18,99.74 L569.51,100.01 L571.83,100.27 L574.16,100.55 L576.49,100.83 L578.81,101.11 L581.14,101.40 L583.47,101.70 L585.80,102.00 L588.12,102.31 L590.45,102.62 L592.78,102.94 L595.10,103.27 L597.43,103.60 L599.76,103.93 L602.08,104.28 L604.41,104.62 L606.74,104.98 L609.07,105.34 L611.39,105.70 L613.72,106.07 L616.05,106.45 L618.37,106.83 L620.70,107.22 L623.03,107.62 L625.36,108.02 L627.68,108.43 L630.01,108.84 L632.34,109.26 L634.66,109.69 L636.99,110.12 L639.32,110.56 L641.64,111.00 L643.97,111.45 L646.30,111.91 L648.63,112.38 L650.95,112.85 L653.28,113.33 L655.61,113.81 L657.93,114.30 L660.26,114.80 L662.59,115.30 L664.92,115.81 L667.24,116.33 L669.57,116.85 L671.90,117.39 L674.22,117.92 L676.55,118.47 L678.88,119.02 L681.20,119.58 L683.53,120.15 L685.86,120.72 L688.19,121.30 L690.51,121.89 L692.84,122.49 L695.17,123.09 L697.49,123.70 L699.82,124.32 L702.15,124.95 L704.47,125.58 L706.80,126.22 L709.13,126.87 L711.46,127.53 L713.78,128.19 L716.11,128.87 L718.44,129.55 L720.76,130.24 L723.09,130.94 L725.42,131.64 L727.75,132.36 L730.07,133.08 L732.40,133.81 L734.73,134.55 L737.05,135.30 L739.38,136.06 L741.71,136.82 L744.03,137.60 L746.36,138.38 L748.69,139.17 L751.02,139.98 L753.34,140.79 L755.67,141.61 L758.00,142.44 L760.32,143.28 L762.65,144.13 L764.98,144.99 L767.31,145.86 L769.63,146.73 L771.96,147.62 L774.29,148.52 L776.61,149.43 L778.94,150.35 L781.27,151.28 L783.59,152.22 L785.92,153.17 L788.25,154.13 L790.58,155.10 L792.90,156.08 L795.23,157.07 L797.56,158.08 L799.88,159.09 L802.21,160.12 L804.54,161.16 L806.86,162.21 L809.19,163.27 L811.52,164.34 L813.85,165.43 L816.17,166.53 L818.50,167.64" stroke="#0c6e0c"/>
<path d="M448.50,66.39 L450.83,66.39 L453.15,66.40 L455.48,66.41 L457.81,66.42 L460.14,66.44 L462.46,66.47 L464.79,66.49 L467.12,66.53 L469.44,66.56 L471.77,66.60 L474.10,66.65 L476.42,66.70 L478.75,66.75 L481.08,66.81 L483.41,66.87 L485.73,66.94 L488.06,67.01 L490.39,67.09 L492.71,67.16 L495.04,67.25 L497.37,67.34 L499.69,67.43 L502.02,67.53 L504.35,67.63 L506.68,67.73 L509.00,67.84 L511.33,67.96 L513.66,68.08 L515.98,68.20 L518.31,68.33 L520.64,68.46 L522.97,68.60 L525.29,68.74 L527.62,68.88 L529.95,69.03 L532.27,69.19 L534.60,69.35 L536.93,69.51 L539.25,69.68 L541.58,69.85 L543.91,70.03 L546.24,70.21 L548.56,70.40 L550.89,70.59 L553.22,70.78 L555.54,70.98 L557.87,71.19 L560.20,71.40 L562.53,71.61 L564.85,71.83 L567.18,72.05 L569.51,72.28 L571.83,72.51 L574.16,72.75 L576.49,72.99 L578.81,73.24 L581.14,73.49 L583.47,73.75 L585.80,74.01 L588.12,74.28 L590.45,74.55 L592.78,74.82 L595.10,75.11 L597.43,75.39 L599.76,75.68 L602.08,75.98 L604.41,76.28 L606.74,76.58 L609.07,76.90 L611.39,77.21 L613.72,77.53 L616.05,77.86 L618.37,78.19 L620.70,78.53 L623.03,78.87 L625.36,79.22 L627.68,79.57 L630.01,79.93 L632.34,80.29 L634.66,80.66 L636.99,81.03 L639.32,81.41 L641.64,81.79 L643.97,82.18 L646.30,82.58 L648.63,82.98 L650.95,83.38 L653.28,83.79 L655.61,84.21 L657.93,84.63 L660.26,85.06 L662.59,85.50 L664.92,85.93 L667.24,86.38 L669.57,86.83 L671.90,87.29 L674.22,87.75 L676.55,88.22 L678.88,88.69 L681.20,89.17 L683.53,89.66 L685.86,90.15 L688.19,90.65 L690.51,91.15 L692.84,91.66 L695.17,92.18 L697.49,92.70 L699.82,93.23 L702.15,93.76 L704.47,94.30 L706.80,94.85 L709.13,95.40 L711.46,95.96 L713.78,96.53 L716.11,97.10 L718.44,97.68 L720.76,98.27 L723.09,98.86 L725.42,99.46 L727.75,100.06 L730.07,100.67 L732.40,101.29 L734.73,101.92 L737.05,102.55 L739.38,103.19 L741.71,103.83 L744.03,104.49 L746.36,105.15 L748.69,105.81 L751.02,106.49 L753.34,107.17 L755.67,107.85 L758.00,108.55 L760.32,109.25 L762.65,109.96 L764.98,110.67 L767.31,111.40 L769.63,112.13 L771.96,112.87 L774.29,113.61 L776.61,114.37 L778.94,115.13 L781.27,115.90 L783.59,116.67 L785.92,117.46 L788.25,118.25 L790.58,119.05 L792.90,119.85 L795.23,120.67 L797.56,121.49 L799.88,122.32 L802.21,123.16 L804.54,124.01 L806.86,124.86 L809.19,125.73 L811.52,126.60 L813.85,127.48 L816.17,128.37 L818.50,129.26" stroke="#ff7f50"/>
<path d="M448.50,38.96 L450.83,38.96 L453.15,38.97 L455.48,38.98 L457.81,38.99 L460.14,39.01 L462.46,39.03 L464.79,39.05 L467.12,39.08 L469.44,39.11 L471.77,39.15 L474.10,39.19 L476.42,39.23 L478.75,39.28 L481.08,39.33 L483.41,39.39 L485.73,39.44 L488.06,39.51 L490.39,39.57 L492.71,39.64 L495.04,39.72 L497.37,39.79 L499.69,39.87 L502.02,39.96 L504.35,40.05 L506.68,40.14 L509.00,40.24 L511.33,40.34 L513.66,40.44 L515.98,40.55 L518.31,40.66 L520.64,40.78 L522.97,40.90 L525.29,41.02 L527.62,41.15 L529.95,41.28 L532.27,41.42 L534.60,41.56 L536.93,41.70 L539.25,41.85 L541.58,42.00 L543.91,42.16 L546.24,42.31 L548.56,42.48 L550.89,42.65 L553.22,42.82 L555.54,42.99 L557.87,43.17 L560.20,43.36 L562.53,43.54 L564.85,43.73 L567.18,43.93 L569.51,44.13 L571.83,44.33 L574.16,44.54 L576.49,44.76 L578.81,44.97 L581.14,45.19 L583.47,45.42 L585.80,45.65 L588.12,45.88 L590.45,46.12 L592.78,46.36 L595.10,46.61 L597.43,46.86 L599.76,47.11 L602.08,47.37 L604.41,47.64 L606.74,47.90 L609.07,48.18 L611.39,48.45 L613.72,48.73 L616.05,49.02 L618.37,49.31 L620.70,49.60 L623.03,49.90 L625.36,50.21 L627.68,50.52 L630.01,50.83 L632.34,51.15 L634.66,51.47 L636.99,51.79 L639.32,52.13 L641.64,52.46 L643.97,52.80 L646.30,53.15 L648.63,53.50 L650.95,53.85 L653.28,54.21 L655.61,54.58 L657.93,54.95 L660.26,55.32 L662.59,55.70 L664.92,56.09 L667.24,56.48 L669.57,56.87 L671.90,57.27 L674.22,57.67 L676.55,58.08 L678.88,58.50 L681.20,58.92 L683.53,59.34 L685.86,59.77 L688.19,60.21 L690.51,60.65 L692.84,61.09 L695.17,61.54 L697.49,62.00 L699.82,62.46 L702.15,62.93 L704.47,63.40 L706.80,63.88 L709.13,64.36 L711.46,64.85 L713.78,65.35 L716.11,65.84 L718.44,66.35 L720.76,66.86 L723.09,67.38 L725.42,67.90 L727.75,68.43 L730.07,68.96 L732.40,69.50 L734.73,70.05 L737.05,70.60 L739.38,71.16 L741.71,71.72 L744.03,72.29 L746.36,72.86 L748.69,73.44 L751.02,74.03 L753.34,74.62 L755.67,75.22 L758.00,75.83 L760.32,76.44 L762.65,77.06 L764.98,77.68 L767.31,78.31 L769.63,78.95 L771.96,79.59 L774.29,80.24 L776.61,80.90 L778.94,81.56 L781.27,82.23 L783.59,82.91 L785.92,83.59 L788.25,84.28 L790.58,84.98 L792.90,85.68 L795.23,86.39 L797.56,87.10 L799.88,87.83 L802.21,88.56 L804.54,89.29 L806.86,90.04 L809.19,90.79 L811.52,91.55 L813.85,92.31 L816.17,93.08 L818.50,93.86" stroke="#00ffff"/>
<path d="M448.50,10.99 L450.83,10.99 L453.15,10.99 L455.48,11.00 L457.81,11.02 L460.14,11.03 L462.46,11.05 L464.79,11.08 L467.12,11.10 L469.44,11.13 L471.77,11.17 L474.10,11.21 L476.42,11.25 L478.75,11.29 L481.08,11.34 L483.41,11.39 L485.73,11.45 L488.06,11.51 L490.39,11.57 L492.71,11.64 L495.04,11.71 L497.37,11.78 L499.69,11.86 L502.02,11.94 L504.35,12.03 L506.68,12.12 L509.00,12.21 L511.33,12.31 L513.66,12.41 L515.98,12.51 L518.31,12.62 L520.64,12.73 L522.97,12.84 L525.29,12.96 L527.62,13.08 L529.95,13.21 L532.27,13.34 L534.60,13.47 L536.93,13.60 L539.25,13.75 L541.58,13.89 L543.91,14.04 L546.24,14.19 L548.56,14.34 L550.89,14.50 L553.22,14.66 L555.54,14.83 L557.87,15.00 L560.20,15.17 L562.53,15.35 L564.85,15.53 L567.18,15.72 L569.51,15.91 L571.83,16.10 L574.16,16.29 L576.49,16.49 L578.81,16.70 L581.14,16.90 L583.47,17.12 L585.80,17.33 L588.12,17.55 L590.45,17.77 L592.78,18.00 L595.10,18.23 L597.43,18.46 L599.76,18.70 L602.08,18.94 L604.41,19.19 L606.74,19.44 L609.07,19.69 L611.39,19.95 L613.72,20.21 L616.05,20.47 L618.37,20.74 L620.70,21.02 L623.03,21.29 L625.36,21.57 L627.68,21.86 L630.01,22.15 L632.34,22.44 L634.66,22.74 L636.99,23.04 L639.32,23.34 L641.64,23.65 L643.97,23.96 L646.30,24.28 L648.63,24.60 L650.95,24.92 L653.28,25.25 L655.61,25.58 L657.93,25.92 L660.26,26.26 L662.59,26.61 L664.92,26.95 L667.24,27.31 L669.57,27.66 L671.90,28.03 L674.22,28.39 L676.55,28.76 L678.88,29.13 L681.20,29.51 L683.53,29.89 L685.86,30.28 L688.19,30.67 L690.51,31.06 L692.84,31.46 L695.17,31.86 L697.49,32.27 L699.82,32.68 L702.15,33.10 L704.47,33.52 L706.80,33.94 L709.13,34.37 L711.46,34.80 L713.78,35.24 L716.11,35.68 L718.44,36.13 L720.76,36.58 L723.09,37.03 L725.42,37.49 L727.75,37.95 L730.07,38.42 L732.40,38.89 L734.73,39.37 L737.05,39.85 L739.38,40.33 L741.71,40.82 L744.03,41.32 L746.36,41.82 L748.69,42.32 L751.02,42.83 L753.34,43.34 L755.67,43.86 L758.00,44.38 L760.32,44.90 L762.65,45.43 L764.98,45.97 L767.31,46.51 L769.63,47.05 L771.96,47.60 L774.29,48.16 L776.61,48.72 L778.94,49.28 L781.27,49.85 L783.59,50.42 L785.92,51.00 L788.25,51.58 L790.58,52.17 L792.90,52.76 L795.23,53.35 L797.56,53.96 L799.88,54.56 L802.21,55.17 L804.54,55.79 L806.86,56.41 L809.19,57.04 L811.52,57.67 L813.85,58.30 L816.17,58.94 L818.50,59.59" stroke="#ff0000"/>
</g>
<path d="M448.50,283.2 v-2.7 M448.50,7.2 v2.7 M455.90,283.2 v-1.3 M455.90,7.2 v1.3 M463.30,283.2 v-1.3 M463.30,7.2 v1.3 M470.70,283.2 v-1.3 M470.70,7.2 v1.3 M478.10,283.2 v-1.3 M478.10,7.2 v1.3 M485.50,283.2 v-2.7 M485.50,7.2 v2.7 M492.90,283.2 v-1.3 M492.90,7.2 v1.3 M500.30,283.2 v-1.3 M500.30,7.2 v1.3 M507.70,283.2 v-1.3 M507.70,7.2 v1.3 M515.10,283.2 v-1.3 M515.10,7.2 v1.3 M522.50,283.2 v-2.7 M522.50,7.2 v2.7 M529.90,283.2 v-1.3 M529.90,7.2 v1.3 M537.30,283.2 v-1.3 M537.30,7.2 v1.3 M544.70,283.2 v-1.3 M544.70,7.2 v1.3 M552.10,283.2 v-1.3 M552.10,7.2 v1.3 M559.50,283.2 v-2.7 M559.50,7.2 v2.7 M566.90,283.2 v-1.3 M566.90,7.2 v1.3 M574.30,283.2 v-1.3 M574.30,7.2 v1.3 M581.70,283.2 v-1.3 M581.70,7.2 v1.3 M589.10,283.2 v-1.3 M589.10,7.2 v1.3 M596.50,283.2 v-2.7 M596.50,7.2 v2.7 M603.90,283.2 v-1.3 M603.90,7.2 v1.3 M611.30,283.2 v-1.3 M611.30,7.2 v1.3 M618.70,283.2 v-1.3 M618.70,7.2 v1.3 M626.10,283.2 v-1.3 M626.10,7.2 v1.3 M633.50,283.2 v-2.7 M633.50,7.2 v2.7 M640.90,283.2 v-1.3 M640.90,7.2 v1.3 M648.30,283.2 v-1.3 M648.30,7.2 v1.3 M655.70,283.2 v-1.3 M655.70,7.2 v1.3 M663.10,283.2 v-1.3 M663.10,7.2 v1.3 M670.50,283.2 v-2.7 M670.50,7.2 v2.7 M677.90,283.2 v-1.3 M677.90,7.2 v1.3 M685.30,283.2 v-1.3 M685.30,7.2 v1.3 M692.70,283.2 v-1.3 M692.70,7.2 v1.3 M700.10,283.2 v-1.3 M700.10,7.2 v1.3 M707.50,283.2 v-2.7 M707.50,7.2 v2.7 M714.90,283.2 v-1.3 M714.90,7.2 v1.3 M722.30,283.2 v-1.3 M722.30,7.2 v1.3 M729.70,283.2 v-1.3 M729.70,7.2 v1.3 M737.10,283.2 v-1.3 M737.10,7.2 v1.3 M744.50,283.2 v-2.7 M744.50,7.2 v2.7 M751.90,283.2 v-1.3 M751.90,7.2 v1.3 M759.30,283.2 v-1.3 M759.30,7.2 v1.3 M766.70,283.2 v-1.3 M766.70,7.2 v1.3 M774.10,283.2 v-1.3 M774.10,7.2 v1.3 M781.50,283.2 v-2.7 M781.50,7.2 v2.7 M788.90,283.2 v-1.3 M788.90,7.2 v1.3 M796.30,283.2 v-1.3 M796.30,7.2 v1.3 M803.70,283.2 v-1.3 M803.70,7.2 v1.3 M811.10,283.2 v-1.3 M811.10,7.2 v1.3 M818.50,283.2 v-2.7 M818.50,7.2 v2.7 M448.50,283.20 h2.7 M818.50,283.20 h-2.7 M448.50,277.07 h1.3 M818.50,277.07 h-1.3 M448.50,270.93 h1.3 M818.50,270.93 h-1.3 M448.50,264.80 h1.3 M818.50,264.80 h-1.3 M448.50,258.67 h1.3 M818.50,258.67 h-1.3 M448.50,252.53 h2.7 M818.50,252.53 h-2.7 M448.50,246.40 h1.3 M818.50,246.40 h-1.3 M448.50,240.27 h1.3 M818.50,240.27 h-1.3 M448.50,234.13 h1.3 M818.50,234.13 h-1.3 M448.50,228.00 h1.3 M818.50,228.00 h-1.3 M448.50,221.87 h2.7 M818.50,221.87 h-2.7 M448.50,215.73 h1.3 M818.50,215.73 h-1.3 M448.50,209.60 h1.3 M818.50,209.60 h-1.3 M448.50,203.47 h1.3 M818.50,203.47 h-1.3 M448.50,197.33 h1.3 M818.50,197.33 h-1.3 M448.50,191.20 h2.7 M818.50,191.20 h-2.7 M448.50,185.07 h1.3 M818.50,185.07 h-1.3 M448.50,178.93 h1.3 M818.50,178.93 h-1.3 M448.50,172.80 h1.3 M818.50,172.80 h-1.3 M448.50,166.67 h1.3 M818.50,166.67 h-1.3 M448.50,160.53 h2.7 M818.50,160.53 h-2.7 M448.50,154.40 h1.3 M818.50,154.40 h-1.3 M448.50,148.27 h1.3 M818.50,148.27 h-1.3 M448.50,142.13 h1.3 M818.50,142.13 h-1.3 M448.50,136.00 h1.3 M818.50,136.00 h-1.3 M448.50,129.87 h2.7 M818.50,129.87 h-2.7 M448.50,123.73 h1.3 M818.50,123.73 h-1.3 M448.50,117.60 h1.3 M818.50,117.60 h-1.3 M448.50,111.47 h1.3 M818.50,111.47 h-1.3 M448.50,105.33 h1.3 M818.50,105.33 h-1.3 M448.50,99.20 h2.7 M818.50,99.20 h-2.7 M448.50,93.07 h1.3 M818.50,93.07 h-1.3 M448.50,86.93 h1.3 M818.50,86.93 h-1.3 M448.50,80.80 h1.3 M818.50,80.80 h-1.3 M448.50,74.67 h1.3 M818.50,74.67 h-1.3 M448.50,68.53 h2.7 M818.50,68.53 h-2.7 M448.50,62.40 h1.3 M818.50,62.40 h-1.3 M448.50,56.27 h1.3 M818.50,56.27 h-1.3 M448.50,50.13 h1.3 M818.50,50.13 h-1.3 M448.50,44.00 h1.3 M818.50,44.00 h-1.3 M448.50,37.87 h2.7 M818.50,37.87 h-2.7 M448.50,31.73 h1.3 M818.50,31.73 h-1.3 M448.50,25.60 h1.3 M818.50,25.60 h-1.3 M448.50,19.47 h1.3 M818.50,19.47 h-1.3 M448.50,13.33 h1.3 M818.50,13.33 h-1.3 M448.50,7.20 h2.7 M818.50,7.20 h-2.7 " stroke="#000" stroke-width="0.65" fill="none"/>
<path d="M448.05,7.50 H818.95 M448.05,283.50 H818.95" stroke="#000" stroke-opacity="0.82" stroke-width="0.9" fill="none"/>
<path d="M448.50,7.50 V283.50 M818.50,7.50 V283.50" stroke="#000" stroke-opacity="0.62" stroke-width="1" fill="none"/>
<text transform="translate(448.70,295.20) scale(1.04,1)" text-anchor="middle" font-size="11.5">0.0</text>
<text transform="translate(485.70,295.20) scale(1.04,1)" text-anchor="middle" font-size="11.5">0.2</text>
<text transform="translate(522.70,295.20) scale(1.04,1)" text-anchor="middle" font-size="11.5">0.4</text>
<text transform="translate(559.70,295.20) scale(1.04,1)" text-anchor="middle" font-size="11.5">0.6</text>
<text transform="translate(596.70,295.20) scale(1.04,1)" text-anchor="middle" font-size="11.5">0.8</text>
<text transform="translate(633.70,295.20) scale(1.04,1)" text-anchor="middle" font-size="11.5">1.0</text>
<text transform="translate(670.70,295.20) scale(1.04,1)" text-anchor="middle" font-size="11.5">1.2</text>
<text transform="translate(707.70,295.20) scale(1.04,1)" text-anchor="middle" font-size="11.5">1.4</text>
<text transform="translate(744.70,295.20) scale(1.04,1)" text-anchor="middle" font-size="11.5">1.6</text>
<text transform="translate(781.70,295.20) scale(1.04,1)" text-anchor="middle" font-size="11.5">1.8</text>
<text transform="translate(818.70,295.20) scale(1.04,1)" text-anchor="middle" font-size="11.5">2.0</text>
<text transform="translate(445.10,287.60) scale(1.04,1)" text-anchor="end" font-size="11.5">2.0</text>
<text transform="translate(445.10,256.93) scale(1.04,1)" text-anchor="end" font-size="11.5">2.5</text>
<text transform="translate(445.10,226.27) scale(1.04,1)" text-anchor="end" font-size="11.5">3.0</text>
<text transform="translate(445.10,195.60) scale(1.04,1)" text-anchor="end" font-size="11.5">3.5</text>
<text transform="translate(445.10,164.93) scale(1.04,1)" text-anchor="end" font-size="11.5">4.0</text>
<text transform="translate(445.10,134.27) scale(1.04,1)" text-anchor="end" font-size="11.5">4.5</text>
<text transform="translate(445.10,103.60) scale(1.04,1)" text-anchor="end" font-size="11.5">5.0</text>
<text transform="translate(445.10,72.93) scale(1.04,1)" text-anchor="end" font-size="11.5">5.5</text>
<text transform="translate(445.10,42.27) scale(1.04,1)" text-anchor="end" font-size="11.5">6.0</text>
<text transform="translate(445.10,11.60) scale(1.04,1)" text-anchor="end" font-size="11.5">6.5</text>
<text transform="translate(633.60,305.80) scale(1.04,1)" text-anchor="middle" font-size="14">Q</text>
<text transform="translate(428.30,145.20) rotate(-90) scale(1.08,1)" text-anchor="middle" font-size="14">Rs</text>
<text transform="translate(502.50,182.50) scale(1.04,1)" text-anchor="end" font-size="14">M87*</text>
<rect x="509.90" y="173.40" width="31.10" height="8.0" fill="#ffd700" fill-opacity="0.2" stroke="#ffd700" stroke-opacity="0.75" stroke-width="0.8"/>
<text transform="translate(502.50,198.50) scale(1.04,1)" text-anchor="end" font-size="14">γ = 2.5</text>
<path d="M509.60,193.00 H541.40" stroke="#000000" stroke-width="1.12" fill="none"/>
<text transform="translate(502.50,214.50) scale(1.04,1)" text-anchor="end" font-size="14">γ = 3.0</text>
<path d="M509.60,209.00 H541.40" stroke="#ff00ff" stroke-width="1.12" fill="none"/>
<text transform="translate(502.50,230.50) scale(1.04,1)" text-anchor="end" font-size="14">γ = 3.5</text>
<path d="M509.60,225.00 H541.40" stroke="#0c6e0c" stroke-width="1.12" fill="none"/>
<text transform="translate(502.50,246.50) scale(1.04,1)" text-anchor="end" font-size="14">γ = 4.0</text>
<path d="M509.60,241.00 H541.40" stroke="#ff7f50" stroke-width="1.12" fill="none"/>
<text transform="translate(502.50,262.50) scale(1.04,1)" text-anchor="end" font-size="14">γ = 4.5</text>
<path d="M509.60,257.00 H541.40" stroke="#00ffff" stroke-width="1.12" fill="none"/>
<text transform="translate(502.50,278.50) scale(1.04,1)" text-anchor="end" font-size="14">γ = 5.0</text>
<path d="M509.60,273.00 H541.40" stroke="#ff0000" stroke-width="1.12" fill="none"/>
</svg>
</body></html>
